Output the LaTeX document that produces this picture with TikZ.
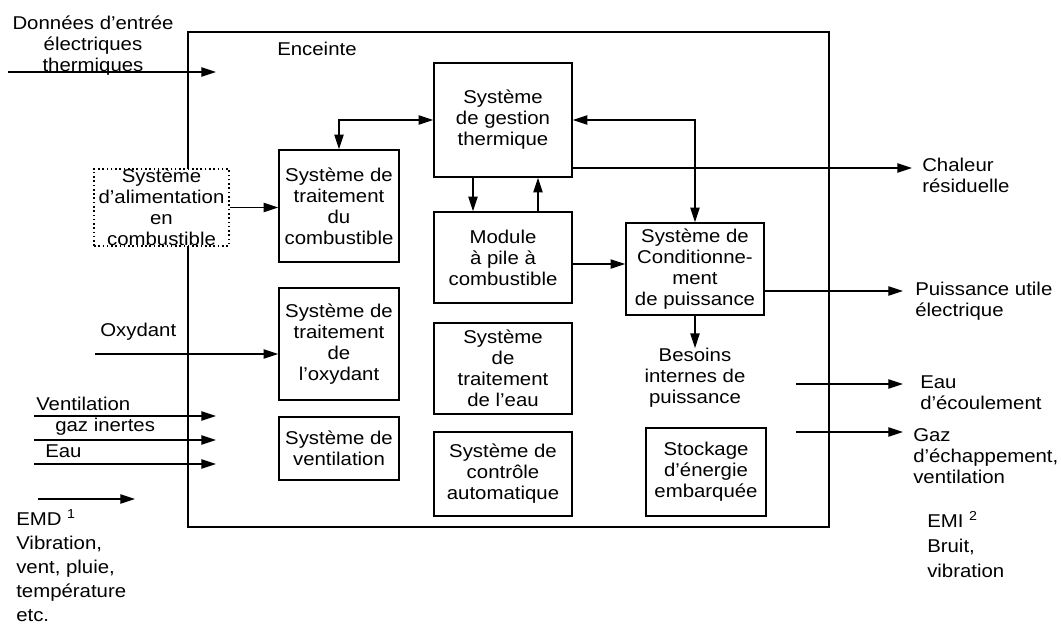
\documentclass[tikz,border=0pt]{standalone}
\usepackage{fontspec}
\setmainfont{Liberation Sans}[FakeStretch=1.1]
\usetikzlibrary{arrows.meta}

\begin{document}
\begin{tikzpicture}[x=0.75pt,y=-0.75pt,>={Triangle[length=11pt,width=7pt]},
  font=\fontsize{13.9}{15.75}\selectfont,
  box/.style={draw,line width=1.2pt,inner sep=0pt,align=center},
  wide/.style={box,minimum width=103.5pt},
  narrow/.style={box,minimum width=90pt},
  flow/.style={->,line width=0.9pt},
  tag/.style={inner sep=0pt,align=left,anchor=west}]

\useasboundingbox (0,0) rectangle (1061,624);

% the enclosure
  \draw[line width=1.2pt] (188,32) rectangle (829,527);
  \node[tag] (encl) at (277,49) {Enceinte};

% define the boxes
  \node[wide, minimum height=85.5pt]  (tgs)    at (503,120)   {Système\\de gestion\\thermique};
  \node[narrow, minimum height=84pt]  (fproc)  at (339,206)   {Système de\\traitement\\du\\combustible};
  \node[wide, minimum height=68.25pt] (module) at (503,257.5) {Module\\à pile à\\combustible};
  \node[wide, minimum height=69pt]    (cond)   at (695,269)   {Système de\\Conditionne-\\ment\\de puissance};
  \node[narrow, minimum height=84pt]  (oxproc) at (339,344)   {Système de\\traitement\\de\\l’oxydant};
  \node[wide, minimum height=68.25pt] (water)  at (503,368.5) {Système\\de\\traitement\\de l’eau};
  \node[narrow, minimum height=47.25pt] (vent) at (339,448.5) {Système de\\ventilation};
  \node[wide, minimum height=63pt]    (ctrl)   at (503,474)   {Système de\\contrôle\\automatique};
  \node[narrow, minimum height=66pt]  (store)  at (706,472)   {Stockage\\d’énergie\\embarquée};
  \node[box, dotted, line width=1pt, fill=white, minimum width=101.25pt, minimum height=57.75pt]
        (fsup) at (161.5,207.5) {Système\\d’alimentation\\en\\combustible};

% define the labels
  \node[align=center, inner sep=0pt] (data)  at (93,46)   {Données d’entrée\\électriques\\thermiques};
  \node[align=center, inner sep=0pt] (needs) at (695,378) {Besoins\\internes de\\puissance};
  \node[tag] (heatlbl) at (922,175)   {Chaleur\\résiduelle};
  \node[tag] (powlbl)  at (915,301.5) {Puissance utile\\électrique};
  \node[tag] (wlbl)    at (920,393)   {Eau\\d’écoulement};
  \node[tag] (glbl)    at (913,456)   {Gaz\\d’échappement,\\ventilation};
  \node[tag, font=\fontsize{13.9}{18.75}\selectfont] (emi) at (927,545) {EMI \textsuperscript{2}\\Bruit,\\vibration};
  \node[tag, font=\fontsize{13.9}{18}\selectfont]    (emd) at (16,566)  {EMD \textsuperscript{1}\\Vibration,\\vent, pluie,\\température\\etc.};
  \node[tag] (oxlbl) at (100,332) {Oxydant};
  \node[tag] (vlbl)  at (36,404)  {Ventilation};
  \node[tag] (ilbl)  at (55,427)  {gaz inertes};
  \node[tag] (elbl)  at (45,451)  {Eau};

% free ends
  \coordinate (data0) at (8,72);    \coordinate (datain) at (216,72);
  \coordinate (ox0)   at (95,354);
  \coordinate (emd0)  at (38,499);  \coordinate (emdin)  at (135,499);
  \coordinate (heat)  at (912,168);
  \coordinate (pow)   at (903,291);
  \coordinate (w0)    at (796,384); \coordinate (wout)   at (903,384);
  \coordinate (g0)    at (796,432); \coordinate (gout)   at (903,432);
  \coordinate (m2c)   at ([yshift=-4.9pt]module.east);

% define the links
  \draw[flow,<->] (fproc.north) |- (tgs.west);
  \draw[flow] ([xshift=-22.5pt]tgs.south) -- ([xshift=-22.5pt]module.north);
  \draw[flow] ([xshift=26.25pt]module.north) -- ([xshift=26.25pt]tgs.south);
  \draw[flow] (m2c) -- (m2c -| cond.west);
  \draw[flow,<->] (tgs.east) -| (cond.north);
  \draw[flow] (tgs.east |- heat) -- (heat);
  \draw[flow] (cond.east |- pow) -- (pow);
  \draw[flow] (cond.south) -- (cond.south |- needs.north);
  \draw[flow] (w0) -- (wout);
  \draw[flow] (g0) -- (gout);
  \draw[flow] (fsup.east) -- (fsup.east -| fproc.west);
  \draw[flow] (ox0) -- (ox0 -| oxproc.west);
  \draw[flow] (data0) -- (datain);
  \draw[flow] (emd0) -- (emdin);
  \foreach \y/\n in {416/vin, 440/gin, 464/ein}
    {\coordinate (\n0) at (34,\y); \coordinate (\n) at (216,\y);
     \draw[flow] (\n0) -- (\n);}

\end{tikzpicture}
\end{document}
